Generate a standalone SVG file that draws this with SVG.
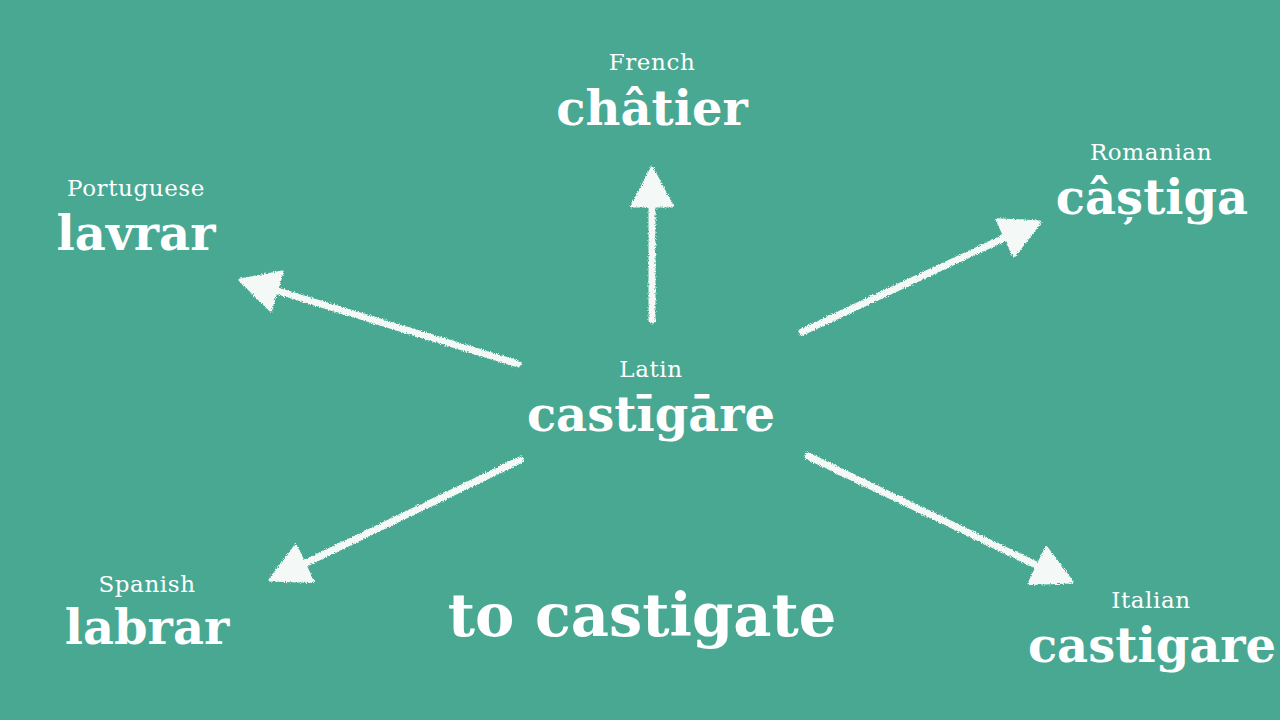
<svg xmlns="http://www.w3.org/2000/svg" width="1280" height="720" viewBox="0 0 1280 720">
<defs>
<style>
.lang{font-family:"DejaVu Serif","Liberation Serif",serif;font-size:23px;letter-spacing:0.6px;fill:#ffffff;text-anchor:middle}
.word{font-family:"DejaVu Serif","Liberation Serif",serif;font-weight:bold;font-size:48px;fill:#ffffff;text-anchor:middle}
.big{font-family:"DejaVu Serif","Liberation Serif",serif;font-weight:bold;font-size:59px;fill:#ffffff;text-anchor:middle}
.shaft{stroke:#f4f8f6;stroke-width:7;stroke-linecap:round;fill:none}
.head{fill:#f4f8f6;stroke:#f4f8f6;stroke-width:3;stroke-linejoin:round}
</style>
<filter id="chalk" x="-10%" y="-10%" width="120%" height="120%">
<feTurbulence type="fractalNoise" baseFrequency="0.9" numOctaves="2" seed="3" result="n"/>
<feDisplacementMap in="SourceGraphic" in2="n" scale="4" xChannelSelector="R" yChannelSelector="G"/>
</filter>
</defs>
<rect width="1280" height="720" fill="#48a892"/>
<g id="connectors" filter="url(#chalk)">
<g id="arrow-french"><line class="shaft" x1="652" y1="320" x2="652" y2="204"/><polygon class="head" points="652,168 672,206 632,206"/></g>
<g id="arrow-portuguese"><line class="shaft" x1="518" y1="364" x2="278" y2="291"/><polygon class="head" points="240,280 282.2,271.9 270.6,310.1"/></g>
<g id="arrow-romanian"><line class="shaft" x1="802" y1="332" x2="1004" y2="238"/><polygon class="head" points="1040,222 1013.9,256.1 997.1,219.7"/></g>
<g id="arrow-spanish"><line class="shaft" x1="520" y1="460" x2="306" y2="563"/><polygon class="head" points="270,580 312.9,581.6 295.7,545.6"/></g>
<g id="arrow-italian"><line class="shaft" x1="808" y1="456" x2="1036" y2="565"/><polygon class="head" points="1072,582 1029.1,583.6 1046.3,547.6"/></g>
</g>
<g id="node-latin"><text class="lang" x="651" y="377">Latin</text><text class="word" x="651" y="431">castīgāre</text></g>
<g id="node-french"><text class="lang" x="652" y="70">French</text><text class="word" x="652" y="125">châtier</text></g>
<g id="node-portuguese"><text class="lang" x="136" y="196">Portuguese</text><text class="word" x="136" y="250">lavrar</text></g>
<g id="node-romanian"><text class="lang" x="1151" y="160">Romanian</text><text class="word" x="1152" y="214">câștiga</text></g>
<g id="node-spanish"><text class="lang" x="147" y="592">Spanish</text><text class="word" x="147" y="644">labrar</text></g>
<g id="node-italian"><text class="lang" x="1151" y="608">Italian</text><text class="word" x="1152" y="662">castigare</text></g>
<g id="node-english"><text class="big" x="642" y="636">to castigate</text></g>
</svg>
